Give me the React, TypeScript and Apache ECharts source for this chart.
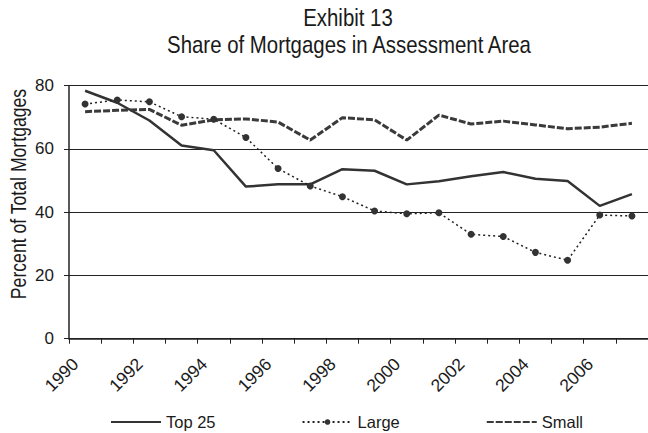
import React, { useEffect, useRef } from "react";
import * as echarts from "echarts";

const years = ["1990","1991","1992","1993","1994","1995","1996","1997","1998","1999","2000","2001","2002","2003","2004","2005","2006","2007"];
const top25 = [78.4, 74.6, 69.0, 61.1, 59.6, 48.1, 48.8, 48.8, 53.6, 53.1, 48.8, 49.8, 51.4, 52.7, 50.6, 49.9, 42.0, 45.7];
const large = [74.2, 75.5, 74.9, 70.2, 69.4, 63.6, 53.8, 48.3, 44.9, 40.4, 39.5, 39.8, 33.0, 32.3, 27.3, 24.8, 39.1, 38.8];
const small = [71.8, 72.2, 72.5, 67.5, 69.2, 69.5, 68.5, 62.8, 69.9, 69.2, 62.8, 70.7, 67.9, 68.8, 67.6, 66.4, 66.9, 68.1];
const yTicks = [0, 20, 40, 60, 80];
const labelYears = [1990, 1992, 1994, 1996, 1998, 2000, 2002, 2004, 2006];
const titleLines = ["Exhibit 13", "Share of Mortgages in Assessment Area"];
const yAxisTitle = "Percent of Total Mortgages";

const FONT = "'Liberation Sans', Arial, sans-serif";

export default function App() {
  const ref = useRef<HTMLDivElement>(null);
  useEffect(() => {
    if (!ref.current) return;
    const chart = echarts.init(ref.current, null, { renderer: "svg" });
    chart.setOption({
      animation: false,
      backgroundColor: "#ffffff",
      textStyle: { fontFamily: FONT },
      graphic: [
        {
          type: "text",
          x: 348,
          y: 18,
          scaleX: 0.85,
          style: { text: titleLines[0], font: `24px ${FONT}`, fill: "#1a1a1a", align: "center", verticalAlign: "middle" },
        },
        {
          type: "text",
          x: 349,
          y: 45,
          scaleX: 0.85,
          style: { text: titleLines[1], font: `24px ${FONT}`, fill: "#1a1a1a", align: "center", verticalAlign: "middle" },
        },
        {
          type: "text",
          x: 18,
          y: 194,
          rotation: Math.PI / 2,
          scaleX: 0.82,
          style: { text: yAxisTitle, font: `21.5px ${FONT}`, fill: "#1a1a1a", align: "center", verticalAlign: "middle" },
        },
      ],
      legend: {
        left: 110,
        top: 413.5,
        padding: 0,
        itemWidth: 50,
        itemHeight: 7,
        itemGap: 86,
        textStyle: { fontFamily: FONT, fontSize: 16.5, color: "#1a1a1a" },
        data: [
          { name: "Top 25", itemStyle: { opacity: 0 } },
          { name: "Large" },
          { name: "Small", itemStyle: { opacity: 0 } },
        ],
      },
      grid: { left: 69, right: 0, top: 85.7, bottom: 94.3, containLabel: false },
      xAxis: [
        {
          type: "category",
          data: years,
          boundaryGap: true,
          axisLine: { show: false },
          axisTick: { show: false },
          axisLabel: { show: false },
          splitLine: { show: false },
        },
        {
          type: "value",
          position: "bottom",
          min: 1990,
          max: 2008,
          interval: 1,
          axisLine: { show: true, onZero: false, lineStyle: { color: "#222", width: 1.5 } },
          axisTick: { show: true, length: 5, lineStyle: { color: "#222", width: 1 } },
          splitLine: { show: false },
          axisLabel: {
            rotate: 45,
            margin: 16,
            verticalAlign: "top",
            lineHeight: 18,
            fontFamily: FONT,
            fontSize: 17.5,
            color: "#1a1a1a",
            showMaxLabel: false,
            formatter: (v: number) => (labelYears.indexOf(v) >= 0 ? String(v) : ""),
          },
        },
      ],
      yAxis: {
        type: "value",
        min: yTicks[0],
        max: yTicks[yTicks.length - 1],
        interval: 20,
        axisLine: { show: true, lineStyle: { color: "#222", width: 1.5 } },
        axisTick: { show: true, length: 5, lineStyle: { color: "#222" } },
        axisLabel: { margin: 15, fontFamily: FONT, fontSize: 17, color: "#1a1a1a" },
        splitLine: { show: true, lineStyle: { color: "#222", width: 1 } },
      },
      series: [
        {
          name: "Top 25",
          type: "line",
          xAxisIndex: 0,
          data: top25,
          symbol: "none",
          lineStyle: { color: "#333", width: 2.5, type: "solid" },
          itemStyle: { color: "#333" },
        },
        {
          name: "Large",
          type: "line",
          xAxisIndex: 0,
          data: large,
          symbol: "circle",
          symbolSize: 7,
          showSymbol: true,
          lineStyle: { color: "#222", width: 1.5, type: [2, 3] },
          itemStyle: { color: "#333" },
        },
        {
          name: "Small",
          type: "line",
          xAxisIndex: 0,
          data: small,
          symbol: "none",
          lineStyle: { color: "#3a3a3a", width: 3, type: [7, 2] },
          itemStyle: { color: "#3a3a3a" },
        },
      ],
    });
    return () => chart.dispose();
  }, []);
  return <div ref={ref} style={{ position: "fixed", left: 0, top: 0, width: 648, height: 433 }} />;
}
